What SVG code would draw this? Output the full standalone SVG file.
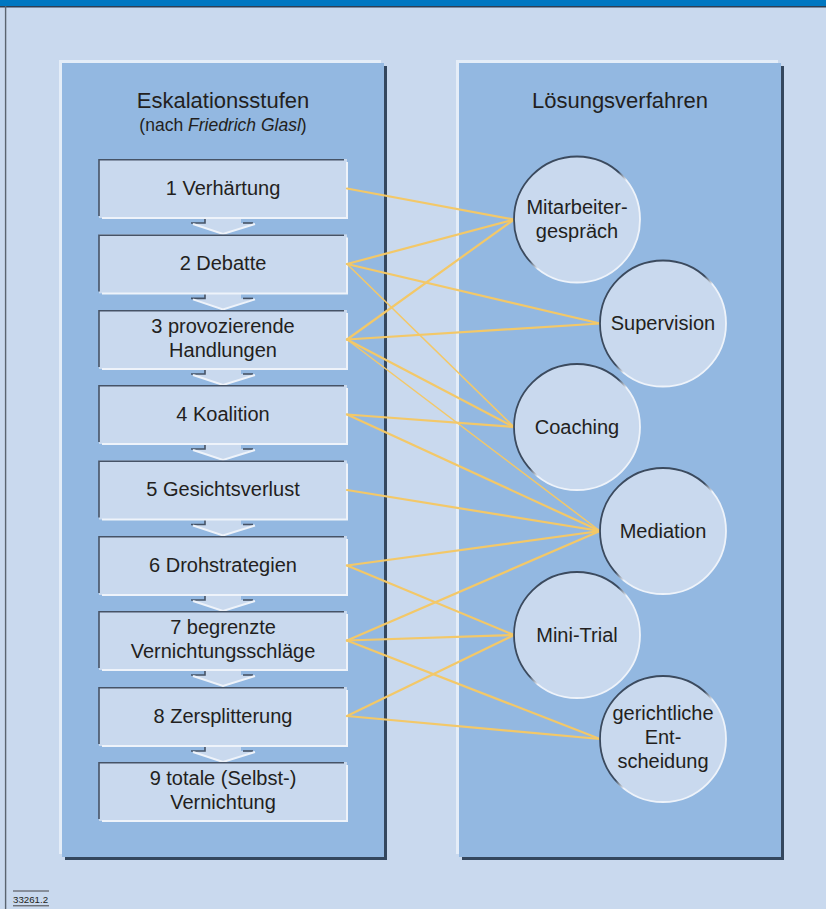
<svg xmlns="http://www.w3.org/2000/svg" width="826" height="909" viewBox="0 0 826 909">
<defs>
<style>
text{font-family:"Liberation Sans",Arial,sans-serif;fill:#231f20;text-anchor:middle}
.t{font-size:20px}
.h{font-size:22px}
.box{fill:#c9d9ee}
.sh{fill:none;stroke:#465366;stroke-width:1.6}
.hi{fill:none;stroke:#eef3fa;stroke-width:2}
.arr{fill:#c9d9ee}
.circ{fill:#c9d9ee;stroke:url(#cg);stroke-width:1.8}
.con line{stroke:#f3c868;stroke-width:2.2;stroke-linecap:round}
.con line.thin{stroke-width:1.5}
</style>
<linearGradient id="cg" x1="0.1" y1="0.1" x2="0.9" y2="0.9">
<stop offset="0" stop-color="#3b4a5e"/>
<stop offset="0.47" stop-color="#3b4a5e"/>
<stop offset="0.55" stop-color="#eef3fa"/>
<stop offset="1" stop-color="#eef3fa"/>
</linearGradient>
<g id="arrowshape">
<polygon class="arr" points="205,0 241,0 241,5 255,5 223,16.5 191,5 205,5"/>
<path class="sh" d="M191,5 H205 V0"/>
<path class="sh" d="M243,5 H253"/>
<path class="hi" d="M193,6 L223,16 L255,6" stroke-width="1.6"/>
</g>
</defs>

<rect width="826" height="909" fill="#c9d9ee"/>
<rect x="0" y="0" width="826" height="6" fill="#0077c1"/>
<line x1="0" y1="6.7" x2="826" y2="6.7" stroke="#2f3e52" stroke-width="1.5"/>
<line x1="5.6" y1="6" x2="5.6" y2="909" stroke="#5a6470" stroke-width="1.4"/>

<!-- panels -->
<g id="panel-left">
<rect x="65" y="66" width="322" height="794" fill="#34475e"/>
<rect x="59" y="60" width="322" height="794" fill="#e4edf8"/>
<rect x="62" y="63" width="322" height="794" fill="#93b8e1"/>
<text class="h" x="223" y="108">Eskalationsstufen</text>
<text x="223" y="131" font-size="17.5">(nach <tspan font-style="italic">Friedrich Glasl</tspan>)</text>
</g>
<g id="panel-right">
<rect x="462" y="66" width="322" height="794" fill="#34475e"/>
<rect x="456" y="60" width="322" height="794" fill="#e4edf8"/>
<rect x="459" y="63" width="322" height="794" fill="#93b8e1"/>
<text class="h" x="620" y="108">Lösungsverfahren</text>
</g>

<!-- arrows between boxes -->
<g id="arrows">
<use href="#arrowshape" transform="translate(0,218)"/>
<use href="#arrowshape" transform="translate(0,293.4)"/>
<use href="#arrowshape" transform="translate(0,369)"/>
<use href="#arrowshape" transform="translate(0,444)"/>
<use href="#arrowshape" transform="translate(0,519.5)"/>
<use href="#arrowshape" transform="translate(0,595)"/>
<use href="#arrowshape" transform="translate(0,670)"/>
<use href="#arrowshape" transform="translate(0,746)"/>
</g>

<!-- stage boxes -->
<g id="stage1" transform="translate(0,159)">
<rect class="box" x="99" y="0" width="248" height="59"/>
<path class="hi" d="M347,3 V59 H102"/><path class="sh" d="M99,57 V0.8 H344"/>
<text class="t" x="223" y="35.5">1 Verhärtung</text>
</g>
<g id="stage2" transform="translate(0,234.4)">
<rect class="box" x="99" y="0" width="248" height="59"/>
<path class="hi" d="M347,3 V59 H102"/><path class="sh" d="M99,57 V0.8 H344"/>
<text class="t" x="223" y="35.5">2 Debatte</text>
</g>
<g id="stage3" transform="translate(0,310)">
<rect class="box" x="99" y="0" width="248" height="59"/>
<path class="hi" d="M347,3 V59 H102"/><path class="sh" d="M99,57 V0.8 H344"/>
<text class="t" x="223" y="23">3 provozierende</text>
<text class="t" x="223" y="47">Handlungen</text>
</g>
<g id="stage4" transform="translate(0,385)">
<rect class="box" x="99" y="0" width="248" height="59"/>
<path class="hi" d="M347,3 V59 H102"/><path class="sh" d="M99,57 V0.8 H344"/>
<text class="t" x="223" y="35.5">4 Koalition</text>
</g>
<g id="stage5" transform="translate(0,460.5)">
<rect class="box" x="99" y="0" width="248" height="59"/>
<path class="hi" d="M347,3 V59 H102"/><path class="sh" d="M99,57 V0.8 H344"/>
<text class="t" x="223" y="35.5">5 Gesichtsverlust</text>
</g>
<g id="stage6" transform="translate(0,536)">
<rect class="box" x="99" y="0" width="248" height="59"/>
<path class="hi" d="M347,3 V59 H102"/><path class="sh" d="M99,57 V0.8 H344"/>
<text class="t" x="223" y="35.5">6 Drohstrategien</text>
</g>
<g id="stage7" transform="translate(0,611)">
<rect class="box" x="99" y="0" width="248" height="59"/>
<path class="hi" d="M347,3 V59 H102"/><path class="sh" d="M99,57 V0.8 H344"/>
<text class="t" x="223" y="23">7 begrenzte</text>
<text class="t" x="223" y="47">Vernichtungsschläge</text>
</g>
<g id="stage8" transform="translate(0,687)">
<rect class="box" x="99" y="0" width="248" height="59"/>
<path class="hi" d="M347,3 V59 H102"/><path class="sh" d="M99,57 V0.8 H344"/>
<text class="t" x="223" y="35.5">8 Zersplitterung</text>
</g>
<g id="stage9" transform="translate(0,762)">
<rect class="box" x="99" y="0" width="248" height="59"/>
<path class="hi" d="M347,3 V59 H102"/><path class="sh" d="M99,57 V0.8 H344"/>
<text class="t" x="223" y="23">9 totale (Selbst-)</text>
<text class="t" x="223" y="46.5">Vernichtung</text>
</g>

<!-- connectors -->
<g id="connectors" class="con">
<line x1="347" y1="188.5" x2="514" y2="219.5"/>
<line x1="347" y1="264" x2="514" y2="219.5"/>
<line x1="347" y1="339.5" x2="514" y2="219.5"/>
<line x1="347" y1="264" x2="600" y2="323.5"/>
<line x1="347" y1="339.5" x2="600" y2="323.5"/>
<line class="thin" x1="347" y1="264" x2="514" y2="427"/>
<line x1="347" y1="339.5" x2="514" y2="427"/>
<line x1="347" y1="414.5" x2="514" y2="427"/>
<line class="thin" x1="347" y1="339.5" x2="600" y2="531"/>
<line x1="347" y1="414.5" x2="600" y2="531"/>
<line x1="347" y1="490" x2="600" y2="531"/>
<line x1="347" y1="565.5" x2="600" y2="531"/>
<line x1="347" y1="640.5" x2="600" y2="531"/>
<line x1="347" y1="565.5" x2="514" y2="635"/>
<line x1="347" y1="640.5" x2="514" y2="635"/>
<line x1="347" y1="716" x2="514" y2="635"/>
<line x1="347" y1="640.5" x2="600" y2="739"/>
<line x1="347" y1="716" x2="600" y2="739"/>
</g>

<!-- methods -->
<g id="mitarbeitergespraech">
<circle class="circ" cx="577" cy="219.5" r="63"/>
<text class="t" x="577" y="214">Mitarbeiter-</text>
<text class="t" x="577" y="237.5">gespräch</text>
</g>
<g id="supervision">
<circle class="circ" cx="663" cy="323.5" r="63"/>
<text class="t" x="663" y="330">Supervision</text>
</g>
<g id="coaching">
<circle class="circ" cx="577" cy="427" r="63"/>
<text class="t" x="577" y="433.5">Coaching</text>
</g>
<g id="mediation">
<circle class="circ" cx="663" cy="531" r="63"/>
<text class="t" x="663" y="537.5">Mediation</text>
</g>
<g id="minitrial">
<circle class="circ" cx="577" cy="635" r="63"/>
<text class="t" x="577" y="641.5">Mini-Trial</text>
</g>
<g id="gerichtliche">
<circle class="circ" cx="663" cy="739" r="63"/>
<text class="t" x="663" y="720">gerichtliche</text>
<text class="t" x="663" y="744">Ent-</text>
<text class="t" x="663" y="768">scheidung</text>
</g>

<g id="footer">
<line x1="13" y1="891" x2="49" y2="891" stroke="#231f20" stroke-width="0.8"/>
<text x="13" y="903" font-size="9.7" style="text-anchor:start">33261.2</text>
<line x1="13" y1="905.8" x2="49" y2="905.8" stroke="#231f20" stroke-width="0.8"/>
</g>
</svg>
